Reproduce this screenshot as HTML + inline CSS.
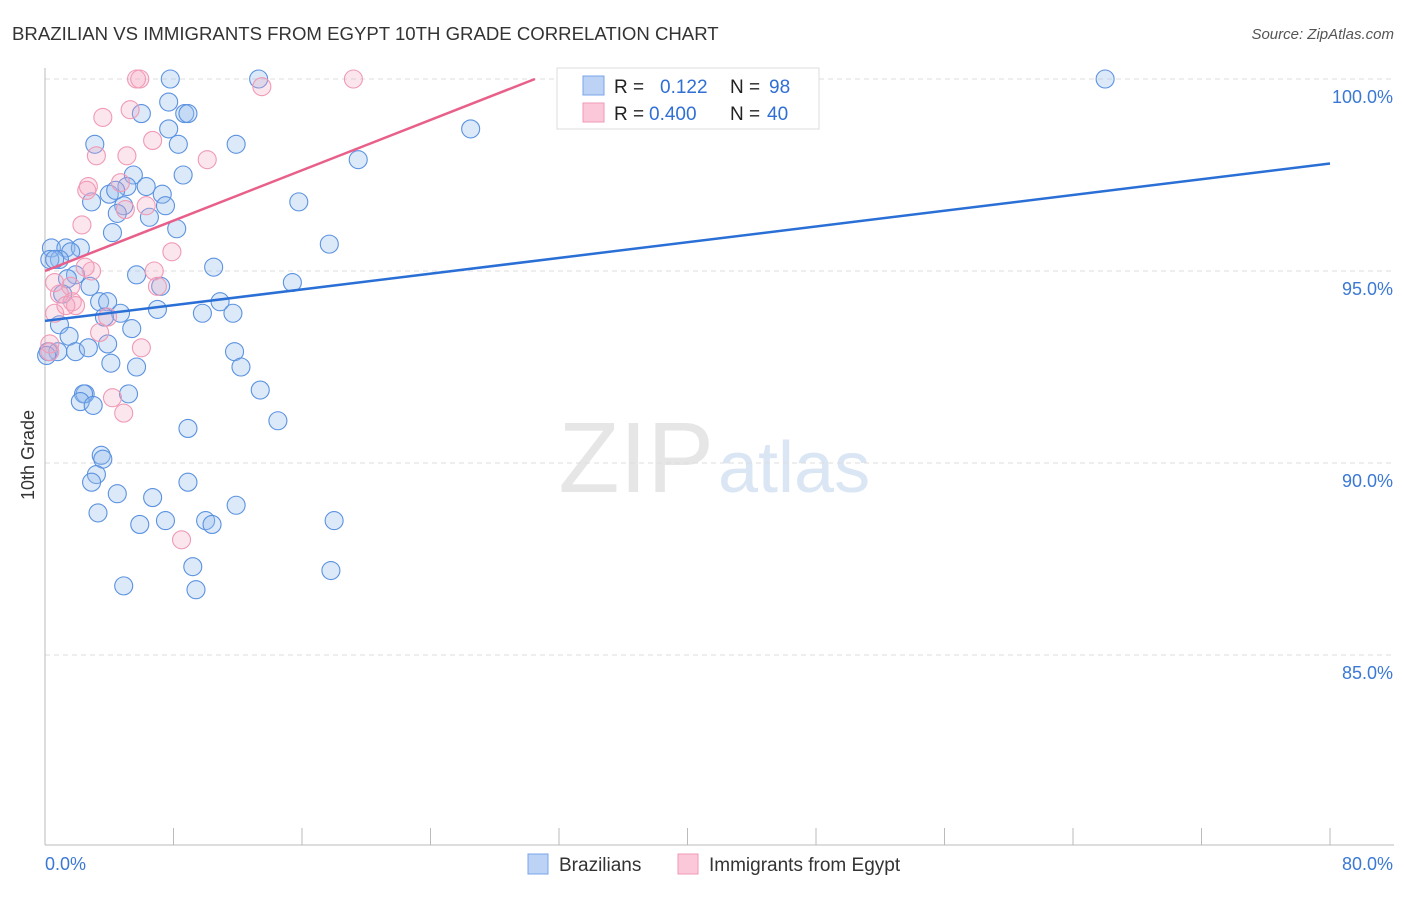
<!DOCTYPE html>
<html><head><meta charset="utf-8"><style>
body{margin:0;background:#fff;font-family:"Liberation Sans",sans-serif;}
svg text{font-family:"Liberation Sans",sans-serif;}
</style></head><body>
<svg id="chart" width="1406" height="892">
<text x="12" y="40" font-size="18.6" fill="#333">BRAZILIAN VS IMMIGRANTS FROM EGYPT 10TH GRADE CORRELATION CHART</text>
<text x="1394" y="39" font-size="15" fill="#555" font-style="italic" text-anchor="end">Source: ZipAtlas.com</text>
<text x="34" y="455" font-size="18" fill="#333" transform="rotate(-90 34 455)" text-anchor="middle">10th Grade</text>
<text x="714" y="492" font-size="100" fill="#e6e6e6" text-anchor="end" font-family="Liberation Serif">ZIP</text>
<text x="718" y="492" font-size="72" fill="#dbe6f5">atlas</text>
<g id="grid"></g><g id="pts"></g><g id="lines"></g>
<g>
<rect x="557" y="68" width="262" height="61" fill="#fff" stroke="#ddd"/>
<rect x="583" y="76" width="21" height="19" fill="#bcd3f5" stroke="#7aa5e8"/>
<rect x="583" y="103" width="21" height="19" fill="#fac8d8" stroke="#f09ab5"/>
<text x="614" y="93" font-size="19" fill="#222">R = </text><text x="660" y="93" font-size="19" fill="#2f6fd6">0.122</text>
<text x="730" y="93" font-size="19" fill="#222">N = </text><text x="769" y="93" font-size="19" fill="#2f6fd6">98</text>
<text x="614" y="120" font-size="19" fill="#222">R = </text><text x="649" y="120" font-size="19" fill="#2f6fd6">0.400</text>
<text x="730" y="120" font-size="19" fill="#222">N = </text><text x="767" y="120" font-size="19" fill="#2f6fd6">40</text>
</g>
<g>
<rect x="528" y="854" width="20" height="20" fill="#bcd3f5" stroke="#7aa5e8"/>
<text x="559" y="871" font-size="19" fill="#333">Brazilians</text>
<rect x="678" y="854" width="20" height="20" fill="#fac8d8" stroke="#f09ab5"/>
<text x="709" y="871" font-size="19" fill="#333">Immigrants from Egypt</text>
</g>
</svg>
<script>
const yTicks=[100,95,90,85];
const yTickLabels=["100.0%","95.0%","90.0%","85.0%"];
const xEndLabels=["0.0%","80.0%"];
const blueX=[7.8,13.3,66,7.7,6,8.7,8.9,7.7,26.5,8.3,11.9,3.1,8.6,5.5,19.5,5.1,6.3,7.3,4.0,4.4,2.9,15.8,4.9,4.5,7.5,6.5,8.2,4.2,17.7,0.4,1.3,2.2,1.6,0.9,0.3,0.6,1.9,10.5,5.7,1.4,7.2,2.8,15.4,1.1,3.4,3.9,10.9,7.0,9.8,11.7,4.7,3.7,0.9,5.4,1.5,3.9,0.8,11.8,1.9,2.7,4.1,5.7,12.2,0.2,0.1,13.4,2.5,2.4,2.2,3.0,5.2,14.5,8.9,3.5,3.6,3.2,2.9,4.5,6.7,8.9,11.9,3.3,5.9,7.5,10.0,10.4,18.0,9.2,17.8,4.9,9.4];
const blueY=[100,100,100,99.4,99.1,99.1,99.1,98.7,98.7,98.3,98.3,98.3,97.5,97.5,97.9,97.2,97.2,97.0,97.0,97.1,96.8,96.8,96.7,96.5,96.7,96.4,96.1,96.0,95.7,95.6,95.6,95.6,95.5,95.3,95.3,95.3,94.9,95.1,94.9,94.8,94.6,94.6,94.7,94.4,94.2,94.2,94.2,94.0,93.9,93.9,93.9,93.8,93.6,93.5,93.3,93.1,92.9,92.9,92.9,93.0,92.6,92.5,92.5,92.9,92.8,91.9,91.8,91.8,91.6,91.5,91.8,91.1,90.9,90.2,90.1,89.7,89.5,89.2,89.1,89.5,88.9,88.7,88.4,88.5,88.5,88.4,88.5,87.3,87.2,86.8,86.7];
const pinkX=[5.7,5.9,19.2,13.5,5.3,3.6,6.7,3.2,5.1,10.1,4.7,2.7,2.6,5.0,6.3,2.3,7.9,2.9,6.8,2.5,1.6,7.0,0.9,1.7,1.9,1.3,0.6,3.9,3.4,6.0,0.3,4.2,4.9,8.5,0.6,0.3];
const pinkY=[100,100,100,99.8,99.2,99.0,98.4,98.0,98.0,97.9,97.3,97.2,97.1,96.6,96.7,96.2,95.5,95.0,95.0,95.1,94.6,94.6,94.4,94.2,94.1,94.1,93.9,93.8,93.4,93.0,93.1,91.7,91.3,88.0,94.7,92.9];
const trendBlue=[93.7,97.8];
const trendPink=[95.0,100];
const NS="http://www.w3.org/2000/svg";
const X=v=>45+v/80*1285, Y=v=>79+(100-v)*38.4;
function mk(t,a,p){const e=document.createElementNS(NS,t);for(const k in a)e.setAttribute(k,a[k]);p.appendChild(e);return e;}
const grid=document.getElementById('grid');
yTicks.forEach((t,i)=>{
 const l=mk('line',{x1:45,x2:1394,y1:Y(t),y2:Y(t),stroke:'#ddd','stroke-dasharray':'5,4'},grid);
 
 
 const tx=mk('text',{x:1393,y:Y(t)+24,'font-size':18,fill:'#3a78d4','text-anchor':'end'},grid);
 tx.textContent=yTickLabels[i];
 
 
});
const ax=mk('line',{x1:45,x2:45,y1:68,y2:845,stroke:'#bbb'},grid);


const bx=mk('line',{x1:45,x2:1394,y1:845,y2:845,stroke:'#bbb'},grid);


for(let i=0;i<=10;i++){const t=mk('line',{x1:X(i*8),x2:X(i*8),y1:828,y2:845,stroke:'#bbb'},grid);
 
 }
[[0,'start',45],[80,'end',1393]].forEach((d,i)=>{const t=mk('text',{x:d[2],y:870,'font-size':18,fill:'#3a78d4','text-anchor':d[1]},grid);t.textContent=xEndLabels[i];
 
 });
const pts=document.getElementById('pts');
blueX.forEach((x,i)=>{const c=mk('circle',{cx:X(x),cy:Y(blueY[i]),r:9,fill:'rgba(150,188,238,0.33)',stroke:'#5b92e0','stroke-width':1.1},pts);
 
 });
pinkX.forEach((x,i)=>{const c=mk('circle',{cx:X(x),cy:Y(pinkY[i]),r:9,fill:'rgba(245,165,195,0.28)',stroke:'#f09ab5','stroke-width':1.1},pts);
 
 });
const lines=document.getElementById('lines');
const lb=mk('line',{x1:X(0),y1:Y(trendBlue[0]),x2:X(80),y2:Y(trendBlue[1]),stroke:'#2a6fd6','stroke-width':2.5},lines);


const lp=mk('line',{x1:X(0),y1:Y(trendPink[0]),x2:X(30.5),y2:Y(trendPink[1]),stroke:'#e8608a','stroke-width':2.5},lines);


</script>
</body></html>
